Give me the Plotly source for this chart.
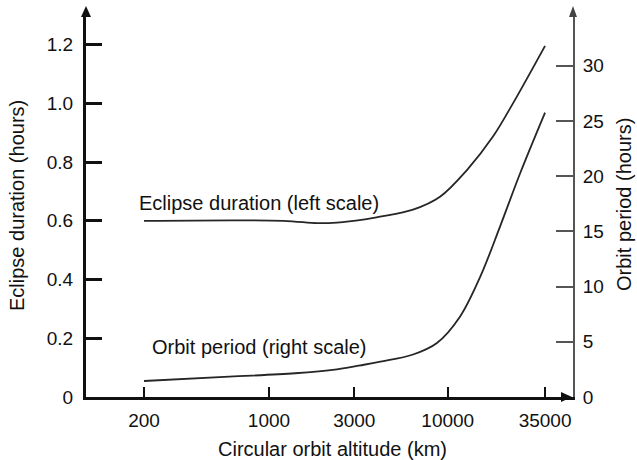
import plotly.graph_objects as go

# Eclipse duration (left scale, hours) vs circular orbit altitude (km)
eclipse_alt_km = [200, 1200, 1860, 2400, 3360, 4180, 6390, 9050, 12800, 17900, 23200, 35000]
eclipse_hours = [0.600, 0.600, 0.592, 0.594, 0.604, 0.614, 0.638, 0.682, 0.773, 0.887, 1.001, 1.196]

# Orbit period (right scale, hours) vs circular orbit altitude (km)
period_alt_km = [200, 600, 1400, 2400, 3400, 4200, 6400, 8700, 11700, 15200, 19600, 25400, 35000]
period_hours = [1.45, 1.84, 2.15, 2.51, 2.92, 3.20, 3.85, 4.89, 7.27, 10.90, 15.43, 20.26, 25.75]

x_ticks = [200, 1000, 3000, 10000, 35000]
x_tick_labels = ["200", "1000", "3000", "10000", "35000"]
left_ticks = [0, 0.2, 0.4, 0.6, 0.8, 1.0, 1.2]
left_tick_labels = ["0", "0.2", "0.4", "0.6", "0.8", "1.0", "1.2"]
right_ticks = [0, 5, 10, 15, 20, 25, 30]
right_tick_labels = ["0", "5", "10", "15", "20", "25", "30"]

W, H = 637, 460
L, R, T, B = 86, 64, 16, 63
PW, PH = W - L - R, H - T - B

FONT = "Liberation Sans, Arial, Helvetica, sans-serif"
TXT = "#111111"
CURVE = "#262626"


def px(x):
    return (x - L) / PW


def py(y):
    return (H - B - y) / PH


fig = go.Figure()
fig.add_trace(go.Scatter(
    x=eclipse_alt_km, y=eclipse_hours, mode="lines",
    line=dict(color=CURVE, width=1.8, shape="spline", smoothing=1.0),
    yaxis="y", showlegend=False, hoverinfo="skip",
))
fig.add_trace(go.Scatter(
    x=period_alt_km, y=period_hours, mode="lines",
    line=dict(color=CURVE, width=1.8, shape="spline", smoothing=1.0),
    yaxis="y2", showlegend=False, hoverinfo="skip",
))

tickfont = dict(family=FONT, size=19, color=TXT)

fig.update_layout(
    width=W, height=H,
    margin=dict(l=L, r=R, t=T, b=B, pad=0),
    paper_bgcolor="white", plot_bgcolor="white",
    font=dict(family=FONT, color=TXT),
    xaxis=dict(
        type="log", range=[1.9767, 4.7004],
        tickvals=x_ticks, ticktext=x_tick_labels,
        ticks="inside", ticklen=10, tickwidth=2, tickcolor="#111",
        showline=True, linewidth=2.5, linecolor="#111",
        showgrid=False, zeroline=False, tickfont=tickfont,
        ticklabelstandoff=4,
    ),
    yaxis=dict(
        range=[0, 1.2977],
        tickvals=left_ticks, ticktext=left_tick_labels,
        ticks="inside", ticklen=16, tickwidth=2.5, tickcolor="#111",
        showline=True, linewidth=3, linecolor="#111",
        showgrid=False, zeroline=False, tickfont=tickfont,
        ticklabelstandoff=6,
    ),
    yaxis2=dict(
        range=[0, 34.5], overlaying="y", side="right",
        tickvals=right_ticks, ticktext=right_tick_labels,
        ticks="inside", ticklen=17, tickwidth=2, tickcolor="#555",
        showline=True, linewidth=2, linecolor="#555",
        showgrid=False, zeroline=False, tickfont=tickfont,
        ticklabelstandoff=4,
    ),
)

# Arrowheads at the ends of the axes
arrows = [
    [(86, 6), (81, 17), (91, 17)],
    [(573, 6), (569, 17), (577, 17)],
    [(572, 397), (561, 392), (561, 402)],
]
colors = ["#111", "#444", "#111"]
for pts, c in zip(arrows, colors):
    path = "M {} {} L {} {} L {} {} Z".format(
        px(pts[0][0]), py(pts[0][1]), px(pts[1][0]), py(pts[1][1]),
        px(pts[2][0]), py(pts[2][1]))
    fig.add_shape(type="path", path=path, xref="paper", yref="paper",
                  fillcolor=c, line=dict(color=c, width=0), layer="above")

lab = dict(family=FONT, size=20, color=TXT)
fig.add_annotation(text="Eclipse duration (left scale)", x=px(137), y=py(203),
                   xref="paper", yref="paper", xanchor="left", yanchor="middle",
                   showarrow=False, font=lab)
fig.add_annotation(text="Orbit period (right scale)", x=px(150), y=py(347),
                   xref="paper", yref="paper", xanchor="left", yanchor="middle",
                   showarrow=False, font=lab)
fig.add_annotation(text="Circular orbit altitude (km)", x=px(332), y=py(449),
                   xref="paper", yref="paper", xanchor="center", yanchor="middle",
                   showarrow=False, font=lab)
fig.add_annotation(text="Eclipse duration (hours)", x=px(17), y=py(206),
                   xref="paper", yref="paper", xanchor="center", yanchor="middle",
                   textangle=-90, showarrow=False, font=lab)
fig.add_annotation(text="Orbit period (hours)", x=px(624), y=py(205),
                   xref="paper", yref="paper", xanchor="center", yanchor="middle",
                   textangle=-90, showarrow=False, font=lab)

fig.write_html("out.html")
